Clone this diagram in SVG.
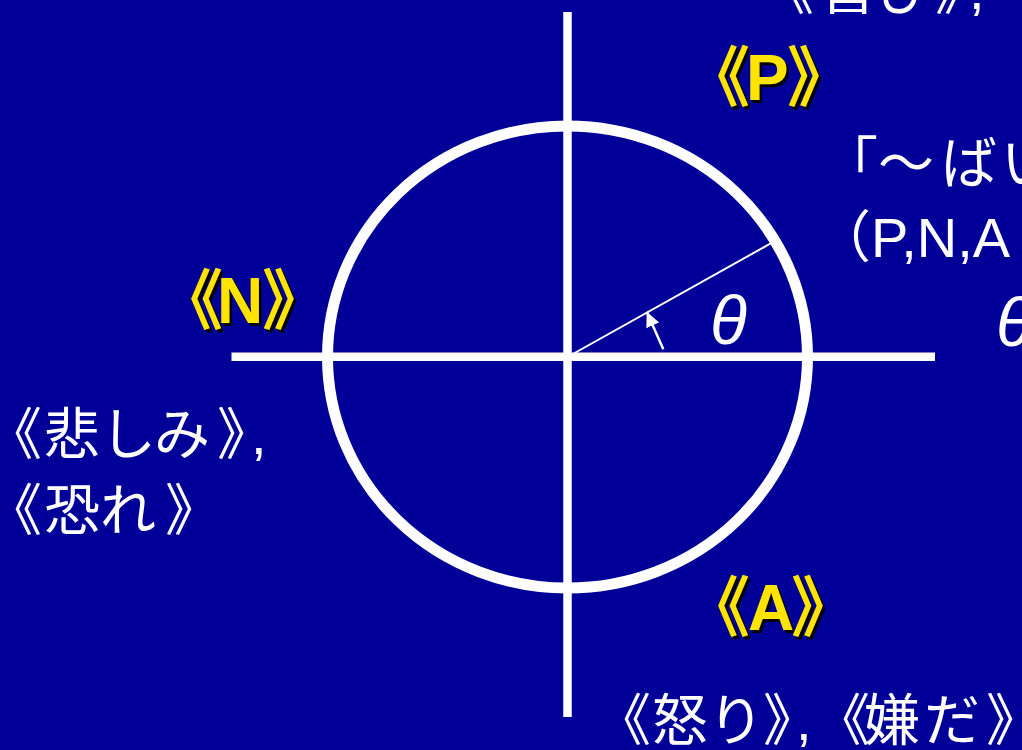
<svg xmlns="http://www.w3.org/2000/svg" width="1022" height="750" viewBox="0 0 1022 750">
<defs>
<style>
.jp{font-family:"Noto Sans CJK JP","Noto Sans CJK SC",sans-serif;font-size:56px;fill:#ffffff;}
.lat{font-family:"Liberation Sans",Arial,sans-serif;font-size:56px;fill:#ffffff;}
.th{font-family:"Liberation Sans",Arial,sans-serif;font-style:italic;font-size:68px;fill:#ffffff;}
.yl{font-family:"Liberation Sans","Noto Sans CJK JP",sans-serif;font-weight:bold;font-size:64px;fill:#ffe400;}
.ylb{font-family:"Noto Sans CJK JP",sans-serif;font-weight:bold;font-size:66px;fill:#ffe400;}
.sh{fill:#000000;}
.ax{stroke:#ffffff;stroke-width:8.5;fill:none;}
</style>
<marker id="ah" markerUnits="userSpaceOnUse" markerWidth="16" markerHeight="16" refX="15" refY="7" orient="auto">
<path d="M0,0 L15,7 L0,14 Z" fill="#ffffff"/>
</marker>
</defs>
<rect x="0" y="0" width="1022" height="750" fill="#000099"/>
<g id="axes">
<line class="ax" x1="567.5" y1="12" x2="567.5" y2="717"/>
<line class="ax" x1="231.5" y1="356.7" x2="935" y2="356.7"/>
</g>
<g id="circle">
<ellipse cx="567.5" cy="357" rx="240" ry="231" fill="none" stroke="#ffffff" stroke-width="11"/>
<line x1="567.5" y1="357" x2="775" y2="241" stroke="#ffffff" stroke-width="2"/>
<text class="th" x="710" y="344">θ</text>
</g>
<g id="connectors">
<line x1="663.3" y1="349.3" x2="646.7" y2="311.7" stroke="#ffffff" stroke-width="2.5" marker-end="url(#ah)"/>
</g>
<g id="label-P">
<g transform="translate(2.5,2.5)">
<text class="ylb sh" x="684" y="101">《</text>
<text class="yl sh" x="746" y="100">P</text>
<text class="ylb sh" x="787" y="101">》</text>
</g>
<text class="ylb" x="684" y="101">《</text>
<text class="yl" x="746" y="100">P</text>
<text class="ylb" x="787" y="101">》</text>
</g>
<g id="label-N">
<g transform="translate(2.5,2.5)">
<text class="ylb sh" x="157" y="324">《</text>
<text class="yl sh" x="217" y="323">N</text>
<text class="ylb sh" x="262" y="324">》</text>
</g>
<text class="ylb" x="157" y="324">《</text>
<text class="yl" x="217" y="323">N</text>
<text class="ylb" x="262" y="324">》</text>
</g>
<g id="label-A">
<g transform="translate(2.5,2.5)">
<text class="ylb sh" x="684" y="631">《</text>
<text class="yl sh" x="748" y="630">A</text>
<text class="ylb sh" x="791" y="631">》</text>
</g>
<text class="ylb" x="684" y="631">《</text>
<text class="yl" x="748" y="630">A</text>
<text class="ylb" x="791" y="631">》</text>
</g>
<g id="text-top">
<text class="jp" x="758 820 876 935" y="9">《喜び》</text>
<text class="lat" x="969" y="9">,</text>
<text class="jp" x="988" y="9">《</text>
</g>
<g id="text-right">
<text class="jp" x="822 878 941 1001" y="183">「～ばい</text>
<text class="jp" x="815" y="257">（</text>
<text class="lat" x="871" y="257">P,N,A</text>
<text class="th" x="996" y="346">θ</text>
</g>
<g id="text-left">
<text class="jp" x="-14 44 100 154 217" y="454">《悲しみ》</text>
<text class="lat" x="251" y="454">,</text>
<text class="jp" x="-14 44 100 165" y="530">《恐れ》</text>
</g>
<g id="text-bottom">
<text class="jp" x="595 652 708 763" y="740">《怒り》</text>
<text class="lat" x="796" y="740">,</text>
<text class="jp" x="814 864 924 986" y="740">《嫌だ》</text>
</g>
</svg>
